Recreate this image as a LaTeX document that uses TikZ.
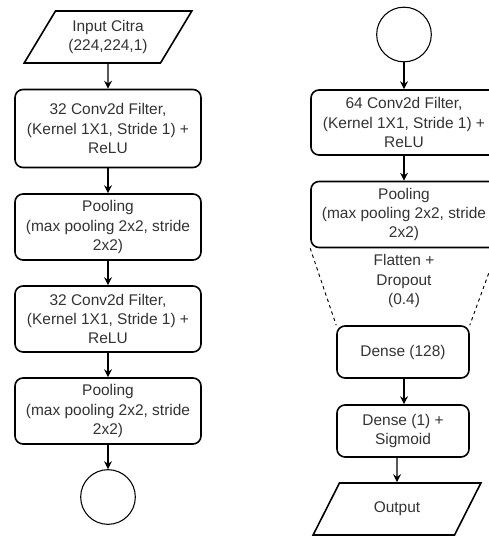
\documentclass[tikz,border=0pt]{standalone}
\usepackage{fontspec}
\setmainfont{Liberation Sans}
\usetikzlibrary{shapes.geometric,arrows.meta}
\definecolor{MyText}{HTML}{333333}
\tikzset{
	MyNode/.style={draw=black,text=MyText,align=center,
	  font=\fontsize{11.6}{14.3}\selectfont,inner sep=1pt},
	MyBox/.style={MyNode,line width=1.2pt,rounded corners=6pt,
	  minimum width=139.5pt},
	MyData/.style={MyNode,line width=1.2pt,trapezium,trapezium left angle=56,
	  trapezium right angle=124,trapezium stretches=true,
	  minimum width=126pt,minimum height=39pt},
	MyCircle/.style={MyNode,circle,line width=0.8pt,minimum size=41pt},
	MyArrow/.style={-{Stealth[length=6pt,width=6pt,inset=2pt]},line width=0.8pt},
	MyLink/.style={line width=0.7pt,dash pattern=on 2.5pt off 2.5pt}
		}
\begin{document}
\begin{tikzpicture}[x=0.75pt,y=-0.75pt]
	\useasboundingbox (0,0) rectangle (489,536);
	\clip (0,0) rectangle (489,536);
	\def\xl{108}% x of the left column
	\def\xr{404}% x of the right column

	% left column
	\node[MyData] (input) at (\xl,37) {Input Citra\\(224,224,1)};
	\node[MyBox,minimum height=58.5pt] (convA) at (\xl,128.5)
	  {32 Conv2d Filter,\\(Kernel 1X1, Stride 1) +\\ReLU};
	\node[MyBox,minimum height=49.5pt] (poolA) at (\xl,227)
	  {Pooling\\(max pooling 2x2, stride\\2x2)};
	\node[MyBox,minimum height=49.5pt] (convB) at (\xl,319)
	  {32 Conv2d Filter,\\(Kernel 1X1, Stride 1) +\\ReLU};
	\node[MyBox,minimum height=49.5pt] (poolB) at (\xl,411)
	  {Pooling\\(max pooling 2x2, stride\\2x2)};
	\node[MyCircle] (linkA) at (\xl,497) {};

	% right column
	\node[MyCircle] (linkB) at (\xr,34.5) {};
	\node[MyBox,minimum height=48.75pt] (convC) at (\xr,122.5)
	  {64 Conv2d Filter,\\(Kernel 1X1, Stride 1) +\\ReLU};
	\node[MyBox,minimum height=49.5pt] (poolC) at (\xr,214.5)
	  {Pooling\\(max pooling 2x2, stride\\2x2)};
	\node[text=MyText,align=center,font=\fontsize{11.6}{14.3}\selectfont]
	  (flat) at (\xr,281) {Flatten +\\Dropout\\(0.4)};
	\node[MyBox,minimum width=99pt,minimum height=39pt] (denseA) at (403,352)
	  {Dense (128)};
	\node[MyBox,minimum width=99pt,minimum height=39pt] (denseB) at (403,431)
	  {Dense (1) +\\Sigmoid};
	\node[MyData] (output) at (397,509) {Output};

	% connectors
	\draw[MyArrow] (input.south) -- (convA.north);
	\draw[MyArrow] (convA) -- (poolA);
	\draw[MyArrow] (poolA) -- (convB);
	\draw[MyArrow] (convB) -- (poolB);
	\draw[MyArrow] (poolB) -- (linkA);
	\draw[MyArrow] (linkB) -- (convC);
	\draw[MyArrow] (convC) -- (poolC);
	\draw[MyArrow] (denseA.south -| linkB) -- (denseB.north -| linkB);
	\draw[MyArrow] (output |- denseB.south) -- (output.north);
	\draw[MyLink] (poolC.south west) -- (denseA.north west);
	\draw[MyLink] (poolC.south east) -- (denseA.north east);
\end{tikzpicture}
\end{document}
